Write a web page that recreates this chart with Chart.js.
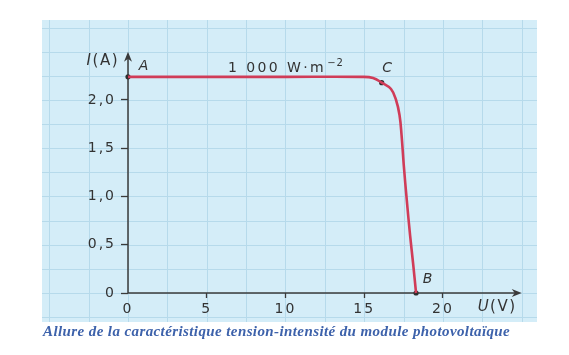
<!DOCTYPE html>
<html>
<head>
<meta charset="utf-8">
<style>
  html, body { margin: 0; padding: 0; background: #ffffff; }
  #wrap { width: 569px; height: 355px; position: relative; }
</style>
<script src="https://cdn.jsdelivr.net/npm/chart.js@4.4.1/dist/chart.umd.min.js"></script>
</head>
<body>
<div id="wrap"><canvas id="c" width="569" height="355"></canvas></div>
<script>
// ---- data ----
const voltage = [0, 5, 10, 14.9, 15.56, 16.11, 16.7, 17.02, 17.24, 17.37, 17.51, 17.70, 17.91, 18.10, 18.29];
const current = [2.24, 2.24, 2.24, 2.24, 2.228, 2.18, 2.114, 2.00, 1.845, 1.637, 1.326, 0.964, 0.601, 0.311, 0];

const pointNames = ['A', 'C', 'B'];
const pointU = [0, 16.11, 18.29];
const pointI = [2.24, 2.18, 0];

const xTickValues = [0, 5, 10, 15, 20];
const xTickLabels = ['0', '5', '10', '15', '20'];
const yTickValues = [0, 0.5, 1.0, 1.5, 2.0];
const yTickLabels = ['0', '0,5', '1,0', '1,5', '2,0'];

const irradianceLabel = '1 000 W·m';
const irradianceExp = '−2';
const irradianceU = 10;
const irradianceI = 2.24;

const xAxisTitle = ['U', '(V)'];
const yAxisTitle = ['I', '(A)'];
const caption = 'Allure de la caractéristique tension-intensité du module photovoltaïque';

// ---- helpers ----
const near = (a, b) => Math.abs(a - b) < 1e-6;
const idxOf = (arr, v) => arr.findIndex(t => near(t, v));

const decor = {
  id: 'decor',
  beforeDraw(chart) {
    const { ctx, chartArea: ca, scales: { x, y } } = chart;
    const L = y.left, R = ca.right, T = ca.top, B = x.bottom;
    ctx.save();
    ctx.fillStyle = '#d4edf8';
    ctx.fillRect(L, T, R - L, B - T);
    ctx.strokeStyle = '#b6daeb';
    ctx.lineWidth = 1;
    const uMin = x.getValueForPixel(L), uMax = x.getValueForPixel(R);
    for (let k = Math.ceil(uMin / 2.5); k * 2.5 <= uMax; k++) {
      const px = Math.round(x.getPixelForValue(k * 2.5)) + 0.5;
      ctx.beginPath(); ctx.moveTo(px, T); ctx.lineTo(px, B); ctx.stroke();
    }
    const iMin = y.getValueForPixel(B), iMax = y.getValueForPixel(T);
    for (let k = Math.ceil(iMin / 0.25); k * 0.25 <= iMax; k++) {
      const py = Math.round(y.getPixelForValue(k * 0.25)) + 0.5;
      ctx.beginPath(); ctx.moveTo(L, py); ctx.lineTo(R, py); ctx.stroke();
    }
    ctx.restore();
    ctx.letterSpacing = '2px';
  },
  beforeDatasetsDraw(chart) {
    const { ctx, scales: { x, y } } = chart;
    const x0 = x.getPixelForValue(0), y0 = y.getPixelForValue(0);
    const xEnd = x.getPixelForValue(25), yEnd = y.getPixelForValue(2.5);
    ctx.save();
    ctx.strokeStyle = '#3a3a3a';
    ctx.fillStyle = '#3a3a3a';
    ctx.lineWidth = 1.5;
    ctx.beginPath(); ctx.moveTo(x0, y0); ctx.lineTo(xEnd - 4, y0); ctx.stroke();
    ctx.beginPath(); ctx.moveTo(x0, y0); ctx.lineTo(x0, yEnd + 4); ctx.stroke();
    ctx.beginPath(); ctx.moveTo(xEnd, y0); ctx.lineTo(xEnd - 10, y0 - 4); ctx.lineTo(xEnd - 7, y0); ctx.lineTo(xEnd - 10, y0 + 4); ctx.closePath(); ctx.fill();
    ctx.beginPath(); ctx.moveTo(x0, yEnd); ctx.lineTo(x0 - 4, yEnd + 10); ctx.lineTo(x0, yEnd + 7); ctx.lineTo(x0 + 4, yEnd + 10); ctx.closePath(); ctx.fill();
    ctx.restore();
  },
  afterDatasetsDraw(chart) {
    const { ctx, scales: { x, y } } = chart;
    ctx.save();
    ctx.letterSpacing = '1px';
    ctx.fillStyle = '#333333';
    ctx.textBaseline = 'middle';
    const offs = { A: [16, -10], C: [6, -14], B: [12, -14] };
    ctx.font = 'italic 14px "DejaVu Sans"';
    ctx.textAlign = 'center';
    pointNames.forEach((n, i) => {
      const px = x.getPixelForValue(pointU[i]), py = y.getPixelForValue(pointI[i]);
      ctx.fillText(n, px + offs[n][0], py + offs[n][1]);
    });
    ctx.textBaseline = 'alphabetic';
    ctx.textAlign = 'left';
    ctx.letterSpacing = '2.4px';
    ctx.font = '14px "DejaVu Sans"';
    const w1 = ctx.measureText(irradianceLabel).width;
    ctx.font = '10px "DejaVu Sans"';
    ctx.letterSpacing = '1px';
    const w2 = ctx.measureText(irradianceExp).width;
    const cx = x.getPixelForValue(irradianceU);
    const by = y.getPixelForValue(irradianceI) - 5;
    const sx = cx - (w1 + w2) / 2;
    ctx.letterSpacing = '2.4px';
    ctx.font = '14px "DejaVu Sans"';
    ctx.fillText(irradianceLabel, sx, by);
    ctx.letterSpacing = '1px';
    ctx.font = '10px "DejaVu Sans"';
    ctx.fillText(irradianceExp, sx + w1 + 1, by - 6);
    ctx.letterSpacing = '1.5px';
    const x0 = x.getPixelForValue(0), y0 = y.getPixelForValue(0);
    const yTop = y.getPixelForValue(2.5);
    ctx.font = '15px "DejaVu Sans"';
    const wa = ctx.measureText(yAxisTitle[1]).width;
    ctx.font = 'italic 15px "DejaVu Sans"';
    const wi = ctx.measureText(yAxisTitle[0]).width;
    const yx = x0 - 9 - wa - wi;
    ctx.textBaseline = 'middle';
    ctx.fillText(yAxisTitle[0], yx, yTop + 9);
    ctx.font = '15px "DejaVu Sans"';
    ctx.fillText(yAxisTitle[1], yx + wi, yTop + 9);
    const ux = x.getPixelForValue(22.2);
    ctx.font = 'italic 15px "DejaVu Sans"';
    const wu = ctx.measureText(xAxisTitle[0]).width;
    ctx.fillText(xAxisTitle[0], ux, y0 + 14);
    ctx.font = '15px "DejaVu Sans"';
    ctx.fillText(xAxisTitle[1], ux + wu, y0 + 14);
    ctx.restore();
  },
  afterDraw(chart) {
    const { ctx, scales: { x, y } } = chart;
    ctx.save();
    ctx.letterSpacing = '0.4px';
    ctx.fillStyle = '#3d62ab';
    ctx.font = 'italic bold 15px "Liberation Serif"';
    ctx.textAlign = 'left';
    ctx.textBaseline = 'alphabetic';
    ctx.fillText(caption, y.left + 1, x.bottom + 14);
    ctx.restore();
    ctx.letterSpacing = '0px';
  }
};

new Chart(document.getElementById('c'), {
  type: 'scatter',
  data: {
    datasets: [
      {
        data: voltage.map((u, i) => ({ x: u, y: current[i] })),
        showLine: true,
        borderColor: '#d03c58',
        borderWidth: 2.6,
        pointRadius: 0,
        tension: 0.4,
        clip: false
      },
      {
        data: pointU.map((u, i) => ({ x: u, y: pointI[i] })),
        showLine: false,
        pointRadius: 2.6,
        pointBackgroundColor: '#2e2e2e',
        pointBorderWidth: 0,
        clip: false
      }
    ]
  },
  options: {
    responsive: false,
    animation: false,
    layout: { padding: { left: 42, right: 32, top: 20, bottom: 33 } },
    plugins: { legend: { display: false }, tooltip: { enabled: false }, title: { display: false } },
    scales: {
      x: {
        type: 'linear',
        min: 0,
        max: 25.97,
        afterFit: s => { s.height = 29; },
        border: { display: false },
        grid: {
          drawOnChartArea: false,
          drawTicks: true,
          tickLength: 5,
          tickWidth: 1.3,
          tickColor: c => (idxOf(xTickValues, c.tick.value) > 0 ? '#3a3a3a' : 'rgba(0,0,0,0)')
        },
        ticks: {
          stepSize: 5,
          autoSkip: false,
          maxRotation: 0,
          padding: 3,
          color: '#333333',
          font: { family: 'DejaVu Sans', size: 14 },
          callback: v => { const k = idxOf(xTickValues, v); return k >= 0 ? xTickLabels[k] : ''; }
        }
      },
      y: {
        type: 'linear',
        min: 0,
        max: 2.829,
        afterFit: s => { s.width = 86; },
        border: { display: false },
        grid: {
          drawOnChartArea: false,
          drawTicks: true,
          tickLength: 7,
          tickWidth: 1.3,
          tickColor: c => (idxOf(yTickValues, c.tick.value) >= 0 ? '#3a3a3a' : 'rgba(0,0,0,0)')
        },
        ticks: {
          stepSize: 0.5,
          autoSkip: false,
          padding: 5,
          color: '#333333',
          font: { family: 'DejaVu Sans', size: 14 },
          callback: v => { const k = idxOf(yTickValues, v); return k >= 0 ? yTickLabels[k] : ''; }
        }
      }
    }
  },
  plugins: [decor]
});
</script>
</body>
</html>
